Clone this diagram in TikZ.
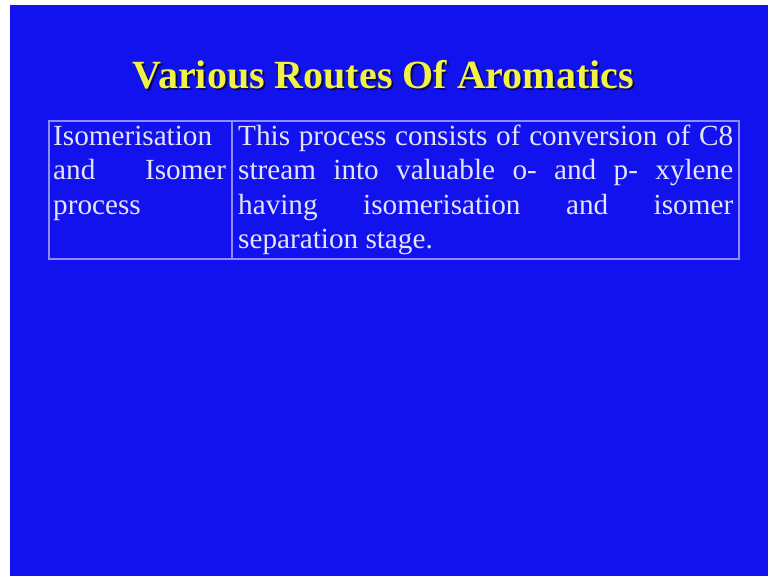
\documentclass[tikz,border=0pt]{standalone}
\usepackage{fontspec}
\setmainfont{Liberation Serif}
\definecolor{slideblue}{RGB}{18,18,238}
\definecolor{ruleblue}{RGB}{140,140,250}
\definecolor{cellwhite}{RGB}{228,228,246}
\definecolor{titleyellow}{RGB}{242,242,70}
\definecolor{shadowblue}{RGB}{10,10,90}
\newcommand{\nohyph}{\hyphenpenalty=10000 \exhyphenpenalty=10000 \tolerance=9999 \relax}
\begin{document}
\begin{tikzpicture}[x=1pt, y=-1pt,
  heading/.style={font=\fontsize{40}{48}\selectfont\bfseries, inner sep=0pt, anchor=base},
  celltext/.style={font=\fontsize{29.2}{34.5}\selectfont,
    text=cellwhite, inner sep=0pt, anchor=base west, align=justify}]
  % slide
  \useasboundingbox (0,0) rectangle (768,576);
  \fill [white] (0,0) rectangle (768,576);
  \fill [slideblue] (10,5) rectangle (768,576);
  % title
  \node [heading, text=shadowblue] (titleshadow) at (385.5,90) {Various Routes Of Aromatics};
  \node [heading, text=titleyellow] (title) at (383.5,88) {Various Routes Of Aromatics};
  % table
  \draw [ruleblue, line width=1.2pt] (49,121) rectangle (739,259);
  \draw [ruleblue, line width=1.2pt] (232,121) -- (232,259);
  \node [celltext, text width=173pt] (route) at (53,145)
    {\nohyph Isomerisation\linebreak and Isomer\linebreak process};
  \node [celltext, text width=495pt] (detail) at (238,145)
    {\nohyph This process consists of conversion of C8\linebreak stream into valuable o- and p- xylene\linebreak
     having isomerisation and isomer\linebreak separation stage.};
\end{tikzpicture}
\end{document}
